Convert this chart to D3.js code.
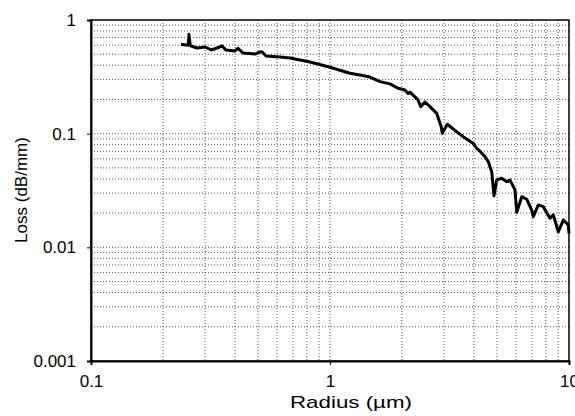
<!DOCTYPE html>
<html>
<head>
<meta charset="utf-8">
<script src="https://cdn.jsdelivr.net/npm/d3@7"></script>
<style>
  body { margin: 0; background: #fff; }
  text { font-family: "Liberation Sans", Arial, sans-serif; fill: #000; }
</style>
</head>
<body>
<script>
// data
var radius = [0.238, 0.250, 0.255, 0.257, 0.260, 0.262, 0.278, 0.300, 0.318, 0.346, 0.353, 0.367,
  0.400, 0.412, 0.432, 0.486, 0.509, 0.519, 0.540, 0.618, 0.680, 0.749, 0.825, 1.0, 1.212, 1.335,
  1.470, 1.619, 1.782, 1.925, 2.060, 2.12, 2.161, 2.335, 2.396, 2.497, 2.62, 2.795, 2.92, 2.95,
  3.096, 3.389, 3.611, 3.978, 4.111, 4.243, 4.452, 4.596, 4.749, 4.855, 4.983, 5.228, 5.486,
  5.664, 5.943, 6.043, 6.342, 6.654, 6.982, 7.091, 7.440, 7.808, 8.326, 8.597, 9.020, 9.467,
  9.933, 10.0];
var loss = [0.611, 0.603, 0.600, 0.748, 0.600, 0.591, 0.567, 0.579, 0.545, 0.579, 0.594, 0.545,
  0.534, 0.564, 0.513, 0.502, 0.523, 0.526, 0.483, 0.473, 0.463, 0.445, 0.427, 0.384, 0.340, 0.328,
  0.315, 0.287, 0.274, 0.251, 0.242, 0.225, 0.232, 0.198, 0.173, 0.190, 0.173, 0.151, 0.115, 0.101,
  0.121, 0.104, 0.094, 0.082, 0.0744, 0.070, 0.0628, 0.0567, 0.0463, 0.0284, 0.0392, 0.0405, 0.0378,
  0.0390, 0.0320, 0.0203, 0.0279, 0.0265, 0.0213, 0.0186, 0.0236, 0.0228, 0.0180, 0.0193, 0.0137, 0.0174,
  0.0157, 0.0133];
var xTicks = [0.1, 1, 10];
var xTickLabels = ["0.1", "1", "10"];
var yTicks = [0.001, 0.01, 0.1, 1];
var yTickLabels = ["0.001", "0.01", "0.1", "1"];

var W = 575, H = 416;
var mLeft = 91, mRight = 569, mTop = 20, mBottom = 361;

var svg = d3.select("body").append("svg")
  .attr("width", W)
  .attr("height", H);

var x = d3.scaleLog().domain([0.1, 10]).range([mLeft, mRight]);
var y = d3.scaleLog().domain([0.001, 1]).range([mBottom, mTop]);

// minor + major grid (dotted)
var xGrid = [], yGrid = [];
[0.1, 1].forEach(function(d) { for (var k = 1; k <= 9; k++) xGrid.push(d * k); });
[0.001, 0.01, 0.1].forEach(function(d) { for (var k = 1; k <= 9; k++) yGrid.push(d * k); });

svg.append("g").selectAll("line")
  .data(xGrid.slice(1))
  .enter().append("line")
  .attr("x1", function(d) { return x(d); })
  .attr("x2", function(d) { return x(d); })
  .attr("y1", mTop).attr("y2", mBottom)
  .attr("stroke", "#555").attr("stroke-width", 1)
  .attr("stroke-dasharray", "1,2");

svg.append("g").selectAll("line")
  .data(yGrid.slice(1))
  .enter().append("line")
  .attr("y1", function(d) { return y(d); })
  .attr("y2", function(d) { return y(d); })
  .attr("x1", mLeft).attr("x2", mRight)
  .attr("stroke", "#555").attr("stroke-width", 1)
  .attr("stroke-dasharray", "1,2");

// frame
svg.append("rect")
  .attr("x", mLeft).attr("y", mTop)
  .attr("width", mRight - mLeft).attr("height", mBottom - mTop)
  .attr("fill", "none").attr("stroke", "#000").attr("stroke-width", 1.5);

// axes
var xAxis = svg.append("g")
  .attr("transform", "translate(0," + mBottom + ")")
  .call(d3.axisBottom(x).tickValues(xTicks)
    .tickFormat(function(d, i) { return xTickLabels[i]; })
    .tickSize(4).tickPadding(10));
var yAxis = svg.append("g")
  .attr("transform", "translate(" + mLeft + ",0)")
  .call(d3.axisLeft(y).tickValues(yTicks)
    .tickFormat(function(d, i) { return yTickLabels[i]; })
    .tickSize(4).tickPadding(11));
[xAxis, yAxis].forEach(function(g) {
  g.select(".domain").attr("stroke-width", 2);
  g.selectAll("text").style("font-size", "17px");
});
svg.selectAll(".tick text").attr("font-family", null);

// the curve
var line = d3.line()
  .x(function(d) { return x(d[0]); })
  .y(function(d) { return y(d[1]); });

svg.append("path")
  .datum(d3.zip(radius, loss))
  .attr("d", line)
  .attr("fill", "none")
  .attr("stroke", "#000")
  .attr("stroke-width", 3)
  .attr("stroke-linejoin", "round");

// axis titles
svg.append("text")
  .attr("x", 351).attr("y", 408)
  .attr("text-anchor", "middle")
  .attr("textLength", 122)
  .attr("lengthAdjust", "spacingAndGlyphs")
  .style("font-size", "17px")
  .text("Radius (µm)");

svg.append("text")
  .attr("transform", "translate(27,190) rotate(-90)")
  .attr("text-anchor", "middle")
  .style("font-size", "17px")
  .text("Loss (dB/mm)");
</script>
</body>
</html>
